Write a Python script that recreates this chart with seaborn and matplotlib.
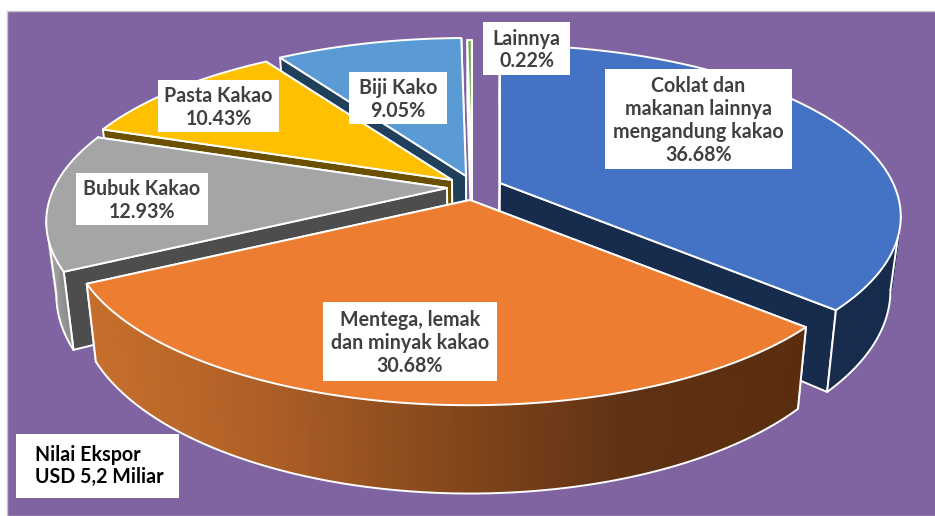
import numpy as np
import matplotlib
matplotlib.use("Agg")
import matplotlib.pyplot as plt
from matplotlib.patches import Polygon, Rectangle
import seaborn as sns

# ---- data ----
categories = ["Coklat dan\nmakanan lainnya\nmengandung kakao", "Mentega, lemak\ndan minyak kakao",
              "Bubuk Kakao", "Pasta Kakao", "Biji Kako", "Lainnya"]
shares = [36.68, 30.68, 12.93, 10.43, 9.05, 0.22]
note_text = "Nilai Ekspor\nUSD 5,2 Miliar"

# ---- style ----
top_colors = ["#4472C4", "#ED7D31", "#A5A5A5", "#FFC000", "#5B9BD5", "#70AD47"]
cut_colors = ["#172B4D", "#5C2F10", "#4D4D4D", "#6B5000", "#203F5A", "#DDE5D8"]
rim_ramps = [["#172B4D", "#172B4D"], ["#C8702D", "#AE5F26", "#86481C", "#603214", "#5A2D0F"],
             ["#A0A0A0", "#7F7F7F"]]
# slice displacement on screen, px, per slice
shift_px = [(500, 183), (470, 200), (447, 188), (452, 180), (466, 176), (472, 178)]
# white label boxes: left, top, right, bottom (px)
boxes = [(605, 69, 792, 169), (323, 302, 497, 381), (76, 173, 208, 225),
         (158, 80, 279, 132), (349, 72, 447, 124), (483, 22, 570, 75)]
A, B, K, D, SHRINK, CX = 393.0, 165.0, 0.196, 71.0, 0.976, 470.0
BG, TXT = "#8064A2", "#404040"

sns.set_theme(style="white")
plt.rcParams["font.family"] = ["Lato", "DejaVu Sans"]

fig = plt.figure(figsize=(9.35, 5.16), dpi=100, facecolor="white")
ax = fig.add_axes([0, 0, 1, 1])
ax.set_xlim(0, 935)
ax.set_ylim(516, 0)
ax.axis("off")
ax.add_patch(Rectangle((6.5, 11), 930, 505, fc=BG, ec="#C8C8C8", lw=1, zorder=0))


def rim(theta, origin):
    """Perspective projection of the unit circle on the pie's top plane."""
    u, v = np.sin(theta), -np.cos(theta)
    w = 1 - K * v
    return origin[0] + A * u / w, origin[1] + B * v / w, w


def drop(x, y, w):
    return CX + (x - CX) * SHRINK, y + D / w


edges = np.radians(np.cumsum([0] + shares) * 3.6)
order = [5, 4, 3, 2, 0, 1]  # back to front
EW = 1.4
for rank, i in enumerate(order):
    z = 1 + rank
    a0, a1 = edges[i], edges[i + 1]
    org = shift_px[i]
    th = np.linspace(a0, a1, max(int(np.degrees(a1 - a0) * 1.5), 3))
    x, y, w = rim(th, org)
    bx, by = drop(x, y, w)
    ax0, ay0 = drop(org[0], org[1], 1.0)

    # radial cut faces: the one facing away first
    for k in ((0, -1) if i < 2 else (-1, 0)):
        face = [(org[0], org[1]), (x[k], y[k]), (bx[k], by[k]), (ax0, ay0)]
        ax.add_patch(Polygon(face, closed=True, fc=cut_colors[i], ec="white", lw=EW,
                             joinstyle="round", zorder=z))

    # outer rim with a horizontal colour ramp (only the three front slices show it)
    if i < 3:
        ramp = sns.blend_palette(rim_ramps[i], 256)
        for j in range(len(th) - 1):
            q = [(x[j], y[j]), (x[j + 1], y[j + 1]), (bx[j + 1], by[j + 1]), (bx[j], by[j])]
            pos = np.clip((x[j] - 85) / (805 - 85), 0, 1)
            if i == 2:
                pos = np.clip((x[j] - 45) / 30, 0, 1)
            c = ramp[int(pos * 255)]
            ax.add_patch(Polygon(q, closed=True, fc=c, ec=c, lw=0.6, zorder=z + 0.1))
        # silhouette of the rim: stop at the widest point, add the tangent edge there
        if i == 0:
            lo, hi = int(np.argmax(x)), len(th)
            ax.plot([x[lo], bx[lo]], [y[lo], by[lo]], color="white", lw=EW, zorder=z + 0.2)
        elif i == 2:
            lo, hi = 0, int(np.argmin(x)) + 1
            ax.plot([x[hi - 1], bx[hi - 1]], [y[hi - 1], by[hi - 1]], color="white", lw=EW, zorder=z + 0.2)
        else:
            lo, hi = 0, len(th)
        ax.plot(bx[lo:hi], by[lo:hi], color="white", lw=EW, solid_capstyle="round", zorder=z + 0.2)
        ax.plot([x[0], bx[0]], [y[0], by[0]], color="white", lw=EW, zorder=z + 0.2)
        ax.plot([x[-1], bx[-1]], [y[-1], by[-1]], color="white", lw=EW, zorder=z + 0.2)

    # top face
    pts = [(org[0], org[1])] + list(zip(x, y))
    ax.add_patch(Polygon(pts, closed=True, fc=top_colors[i], ec="white", lw=EW,
                         joinstyle="round", zorder=z + 0.3))

# labels
FS = 14.1
for name, val, b in zip(categories, shares, boxes):
    ax.add_patch(Rectangle((b[0], b[1]), b[2] - b[0], b[3] - b[1], fc="white", ec="none", zorder=20))
    ax.text((b[0] + b[2]) / 2, (b[1] + b[3]) / 2 + 1.5, f"{name}\n{val:.2f}%", ha="center", va="center",
            fontsize=FS, fontweight="bold", color=TXT, linespacing=1.18, zorder=21)

ax.add_patch(Rectangle((16, 434), 163, 64, fc="white", ec="none", zorder=20))
ax.text(35, 466, note_text, ha="left", va="center", fontsize=FS, fontweight="bold",
        color="black", linespacing=1.18, zorder=21)

fig.savefig("out.png", dpi=100, facecolor="white")
